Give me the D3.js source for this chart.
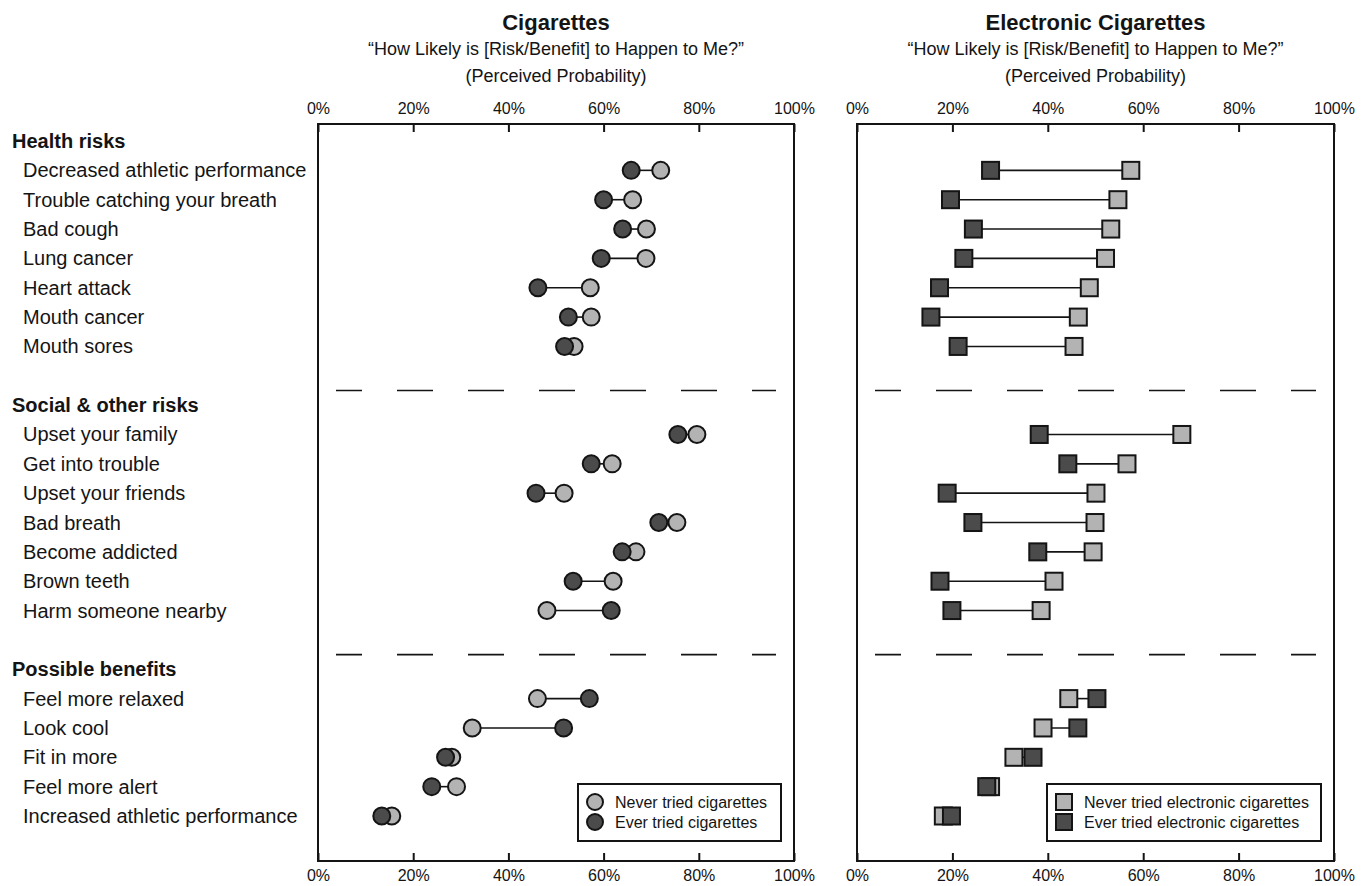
<html>
  <meta charset="utf-8" />
  <script src="https://d3js.org/d3.v7.min.js"></script>
  <body style="margin: 0; background: white">
    <svg width="1370" height="886" id="chart"></svg>
    <script>
      // rows (headers + items), top to bottom
      const groups = ["Health risks", "Social & other risks", "Possible benefits"];
      const healthItems = [
        "Decreased athletic performance",
        "Trouble catching your breath",
        "Bad cough",
        "Lung cancer",
        "Heart attack",
        "Mouth cancer",
        "Mouth sores",
      ];
      const socialItems = [
        "Upset your family",
        "Get into trouble",
        "Upset your friends",
        "Bad breath",
        "Become addicted",
        "Brown teeth",
        "Harm someone nearby",
      ];
      const benefitItems = [
        "Feel more relaxed",
        "Look cool",
        "Fit in more",
        "Feel more alert",
        "Increased athletic performance",
      ];

      // cigarettes, % (health, social, benefits in order)
      const cigNever = [72.0, 66.1, 69.0, 68.9, 57.2, 57.4, 53.8,
                        79.6, 61.8, 51.7, 75.4, 66.8, 62.0, 48.1,
                        46.1, 32.4, 28.1, 29.1, 15.5];
      const cigEver = [65.8, 60.0, 64.0, 59.5, 46.2, 52.6, 51.8,
                       75.6, 57.4, 45.8, 71.6, 63.9, 53.6, 61.6,
                       57.0, 51.6, 26.8, 23.9, 13.4];

      // electronic cigarettes, %
      const ecigNever = [57.4, 54.7, 53.2, 52.1, 48.7, 46.4, 45.5,
                         68.1, 56.6, 50.1, 49.9, 49.5, 41.3, 38.6,
                         44.4, 39.0, 32.9, 28.0, 18.1];
      const ecigEver = [28.0, 19.6, 24.4, 22.4, 17.3, 15.5, 21.2,
                        38.2, 44.2, 18.9, 24.3, 37.9, 17.4, 19.9,
                        50.3, 46.3, 36.9, 27.2, 19.8];

      const tickValues = [0, 20, 40, 60, 80, 100];

      const items = healthItems.concat(socialItems, benefitItems);
      const rowKeys = []
        .concat(["h0"], healthItems, ["gap0", "h1"], socialItems, ["gap1", "h2"], benefitItems);

      const lightFill = "#b3b3b3";
      const darkFill = "#4b4b4b";
      const ink = "#141414";
      const font = "'Liberation Sans', Arial, sans-serif";

      const svg = d3.select("#chart").style("font-family", font);

      const panelTop = 124,
        panelBottom = 861;
      const y = d3.scalePoint().domain(rowKeys).range([141, 816]);
      const step = y.step();

      // row labels
      groups.forEach((g, i) => {
        svg
          .append("text")
          .attr("x", 12)
          .attr("y", y("h" + i))
          .attr("dy", "0.35em")
          .attr("font-size", 20)
          .attr("font-weight", "bold")
          .attr("fill", ink)
          .text(g);
      });
      svg
        .selectAll(".rowLabel")
        .data(items)
        .enter()
        .append("text")
        .attr("class", "rowLabel")
        .attr("x", 23)
        .attr("y", (d) => y(d))
        .attr("dy", "0.35em")
        .attr("font-size", 20)
        .attr("fill", ink)
        .text((d) => d);

      function panel(x0, x1, title, never, ever, shape, legendLabels, legendX0) {
        const x = d3.scaleLinear().domain([0, 100]).range([x0, x1]);
        const cx = (x0 + x1) / 2;
        const g = svg.append("g");

        g.append("text")
          .attr("x", cx)
          .attr("y", 30)
          .attr("text-anchor", "middle")
          .attr("font-size", 22)
          .attr("font-weight", "bold")
          .attr("fill", ink)
          .text(title);
        g.append("text")
          .attr("x", cx)
          .attr("y", 55)
          .attr("text-anchor", "middle")
          .attr("font-size", 18)
          .attr("fill", ink)
          .text("\u201CHow Likely is [Risk/Benefit] to Happen to Me?\u201D");
        g.append("text")
          .attr("x", cx)
          .attr("y", 82)
          .attr("text-anchor", "middle")
          .attr("font-size", 18)
          .attr("fill", ink)
          .text("(Perceived Probability)");

        const fmt = (d) => d + "%";
        const axT = g
          .append("g")
          .attr("transform", `translate(0,${panelTop})`)
          .call(d3.axisTop(x).tickValues(tickValues).tickFormat(fmt).tickSizeInner(-8).tickSizeOuter(0).tickPadding(10));
        const axB = g
          .append("g")
          .attr("transform", `translate(0,${panelBottom})`)
          .call(d3.axisBottom(x).tickValues(tickValues).tickFormat(fmt).tickSizeInner(-8).tickSizeOuter(0).tickPadding(9));
        [axT, axB].forEach((ax) => {
          ax.select(".domain").remove();
          ax.selectAll("line").attr("stroke", ink).attr("stroke-width", 2);
          ax.selectAll("text").attr("font-size", 16).attr("font-family", font).attr("fill", ink);
        });

        g.append("rect")
          .attr("x", x0)
          .attr("y", panelTop)
          .attr("width", x1 - x0)
          .attr("height", panelBottom - panelTop)
          .attr("fill", "none")
          .attr("stroke", ink)
          .attr("stroke-width", 2);

        // dashed separators
        ["gap0", "gap1"].forEach((k) => {
          g.append("line")
            .attr("x1", x0 + 18)
            .attr("x2", x1 - 18)
            .attr("y1", y(k) + step / 2)
            .attr("y2", y(k) + step / 2)
            .attr("stroke", ink)
            .attr("stroke-width", 1.6)
            .attr("stroke-dasharray", "36,35")
            .attr("stroke-dashoffset", 10);
        });

        // connectors
        g.selectAll(".conn")
          .data(items)
          .enter()
          .append("line")
          .attr("x1", (d, i) => x(never[i]))
          .attr("x2", (d, i) => x(ever[i]))
          .attr("y1", (d) => y(d))
          .attr("y2", (d) => y(d))
          .attr("stroke", ink)
          .attr("stroke-width", 1.6);

        function marker(sel, xv, yv, fill, size) {
          if (shape === "circle") {
            sel.append("circle")
              .attr("cx", xv)
              .attr("cy", yv)
              .attr("r", size / 2)
              .attr("fill", fill)
              .attr("stroke", ink)
              .attr("stroke-width", 2);
          } else {
            sel.append("rect")
              .attr("x", xv - size / 2)
              .attr("y", yv - size / 2)
              .attr("width", size)
              .attr("height", size)
              .attr("fill", fill)
              .attr("stroke", ink)
              .attr("stroke-width", 2);
          }
        }

        items.forEach((d, i) => marker(g, x(never[i]), y(d), lightFill, 17));
        items.forEach((d, i) => marker(g, x(ever[i]), y(d), darkFill, 17));

        // legend
        const lx1 = x1 - 13;
        const lg = g.append("g");
        lg.append("rect")
          .attr("x", legendX0)
          .attr("y", 784)
          .attr("width", lx1 - legendX0)
          .attr("height", 57)
          .attr("fill", "white")
          .attr("stroke", ink)
          .attr("stroke-width", 2);
        legendLabels.forEach((lab, i) => {
          const ly = 802 + i * 20;
          marker(lg, legendX0 + 17, ly, i === 0 ? lightFill : darkFill, 16);
          lg.append("text")
            .attr("x", legendX0 + 37)
            .attr("y", ly)
            .attr("dy", "0.35em")
            .attr("font-size", 16)
            .attr("fill", ink)
            .text(lab);
        });
      }

      panel(318, 794, "Cigarettes", cigNever, cigEver, "circle",
        ["Never tried cigarettes", "Ever tried cigarettes"], 578);
      panel(857, 1334, "Electronic Cigarettes", ecigNever, ecigEver, "square",
        ["Never tried electronic cigarettes", "Ever tried electronic cigarettes"], 1047);
    </script>
  </body>
</html>
